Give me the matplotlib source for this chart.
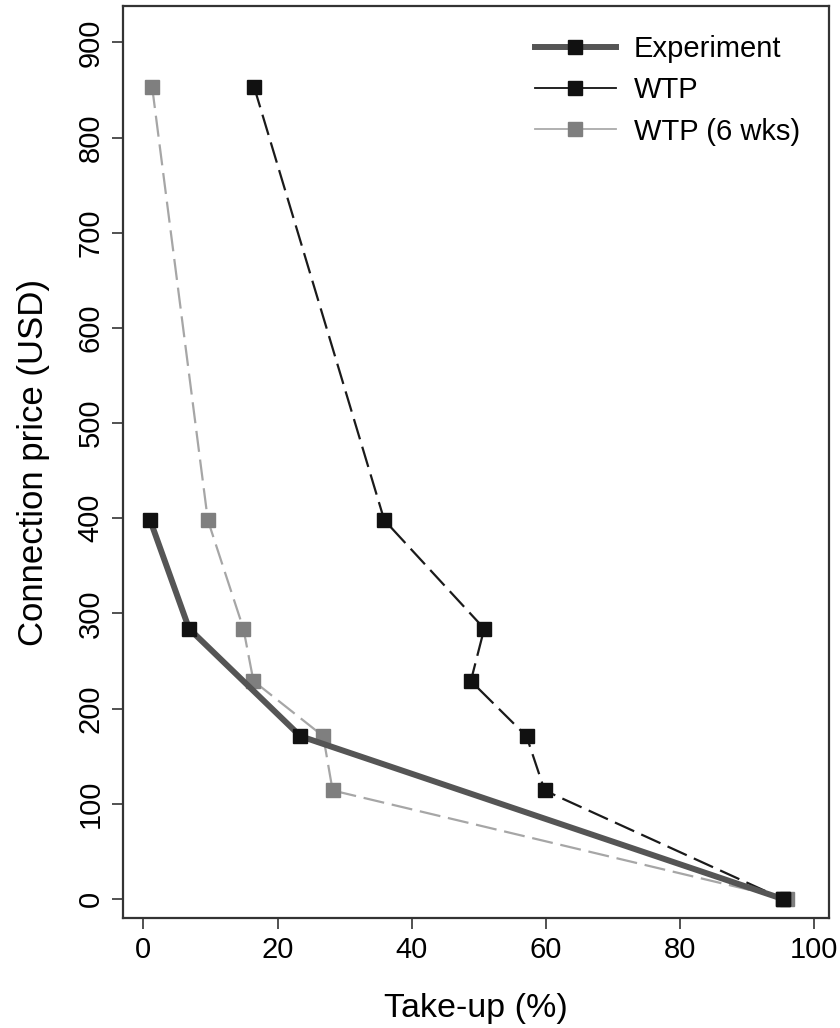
import numpy as np
import matplotlib
matplotlib.use("Agg")
import matplotlib.pyplot as plt
from matplotlib.lines import Line2D

plt.rcParams['font.family'] = ['Liberation Sans', 'DejaVu Sans']

# experiment (randomized connection prices)
exp_price = [398, 284, 171, 0]
exp_takeup = [1.0, 6.8, 23.4, 95.3]

# stated willingness to pay
wtp_price = [853, 398, 284, 229, 171, 114, 0]
wtp_takeup = [16.5, 35.9, 50.8, 48.8, 57.1, 59.8, 95.3]

# willingness to pay, 6 weeks later
wtp6_price = [853, 398, 284, 229, 171, 114, 0]
wtp6_takeup = [1.3, 9.6, 14.9, 16.4, 26.8, 28.2, 96.0]

fig = plt.figure(figsize=(8.4, 10.28), dpi=100)
ax = fig.add_axes([0.146, 0.107, 0.841, 0.887])

ax.plot(wtp6_takeup, wtp6_price, color='#a6a6a6', lw=1.6, dashes=(9.5, 3.5),
        marker='s', ms=9.5, mfc='#7f7f7f', mec='#7f7f7f', zorder=2)
ax.plot(wtp_takeup, wtp_price, color='#1a1a1a', lw=1.6, dashes=(9.5, 3.5),
        marker='s', ms=9.5, mfc='#111111', mec='#111111', zorder=3)
ax.plot(exp_takeup, exp_price, color='#555555', lw=4.3, solid_capstyle='butt',
        marker='s', ms=9.5, mfc='#111111', mec='#111111', zorder=4)

ax.set_xlim(-3.1, 102.2)
ax.set_ylim(-20, 938)
ax.set_xticks([0, 20, 40, 60, 80, 100])
ax.set_yticks(np.arange(0, 901, 100))
ax.tick_params(axis='both', direction='out', length=8, width=1.2,
               labelsize=21, color='#333333', pad=5)
ax.tick_params(axis='y', labelrotation=90)
for lab in ax.get_yticklabels():
    lab.set_va('center')
for s in ax.spines.values():
    s.set_linewidth(1.6)
    s.set_color('#333333')

ax.set_xlabel('Take-up (%)', fontsize=24.5, labelpad=21)
ax.set_ylabel('Connection price (USD)', fontsize=25, labelpad=19)

handles = [
    Line2D([], [], color='#555555', lw=4.3, marker='s', ms=9.5,
           mfc='#111111', mec='#111111'),
    Line2D([], [], color='#111111', lw=1.3, marker='s', ms=9.5,
           mfc='#111111', mec='#111111'),
    Line2D([], [], color='#aaaaaa', lw=1.3, marker='s', ms=9.5,
           mfc='#7f7f7f', mec='#7f7f7f'),
]
ax.legend(handles, ['Experiment', 'WTP', 'WTP (6 wks)'], loc='upper right',
          frameon=False, fontsize=21, handlelength=2.8, handletextpad=0.6,
          labelspacing=0.45, borderaxespad=0.6)

plt.savefig('out.png', dpi=100, facecolor='w')
plt.close()
